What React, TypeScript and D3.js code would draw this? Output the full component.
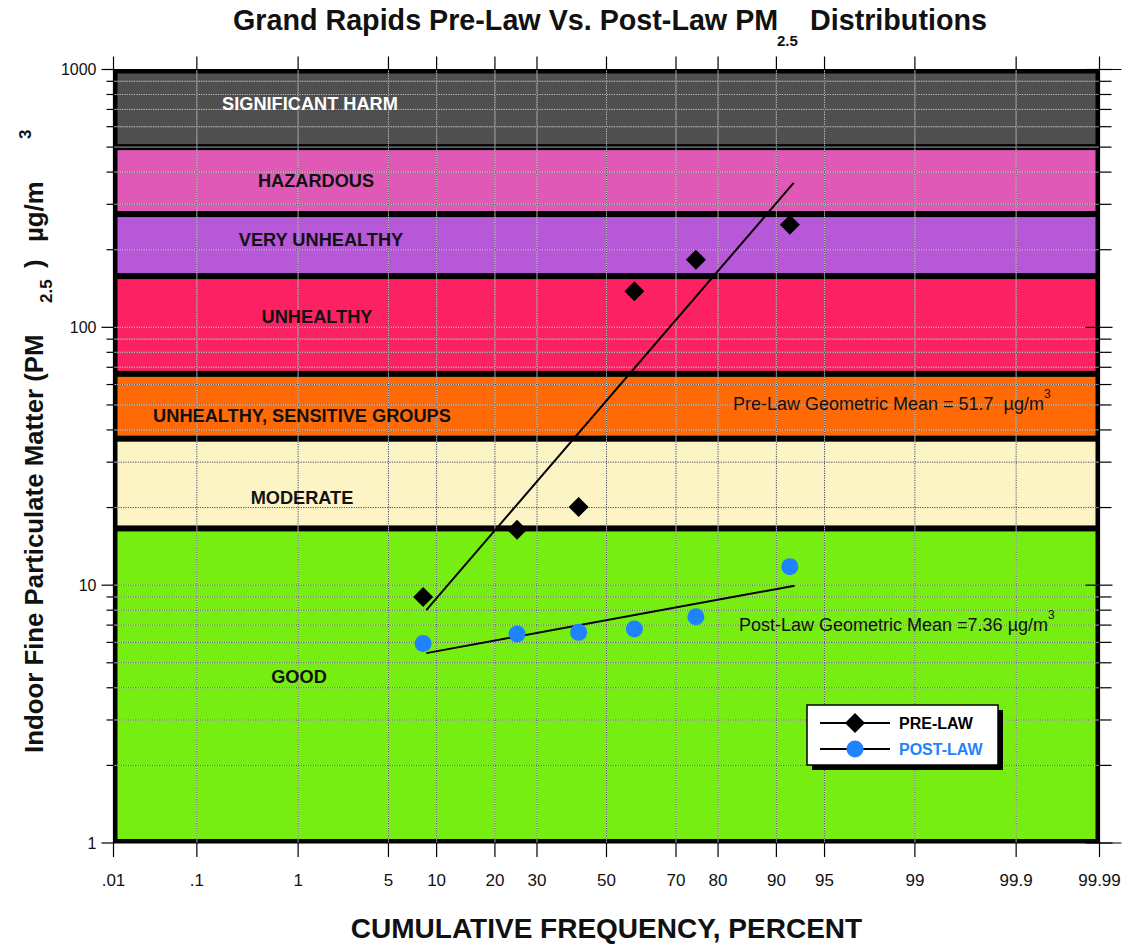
import React, { useRef, useEffect } from 'react';
import * as d3 from 'd3';

// air quality bands (ug/m3)
const bandNames = [
  'SIGNIFICANT HARM',
  'HAZARDOUS',
  'VERY UNHEALTHY',
  'UNHEALTHY',
  'UNHEALTHY, SENSITIVE GROUPS',
  'MODERATE',
  'GOOD',
];
const bandUpper = [1000, 500, 275, 158, 66, 37, 16.6];
const bandLower = [500, 275, 158, 66, 37, 16.6, 1];
const bandColors = ['#4f4f4f', '#e059b6', '#b658d8', '#fc2162', '#ff6a06', '#fcf4c4', '#77ee12'];
const bandTextColors = ['#ffffff', '#111', '#111', '#111', '#111', '#111', '#111'];

// cumulative frequency plotting positions (%) and measured values
const plotPercents = [8.33, 25, 41.67, 58.33, 75, 91.67];
const preLaw = [9.0, 16.4, 20.1, 138, 183, 250];
const postLaw = [5.94, 6.46, 6.56, 6.76, 7.54, 11.8];

// fitted lognormal lines: [percent, value]
const preFit = [[8.7, 8.0], [92.1, 363]];
const postFit = [[8.7, 5.45], [92.2, 9.95]];

const preMean = 51.7;
const postMean = 7.36;

const xTicks = [0.01, 0.1, 1, 5, 10, 20, 30, 50, 70, 80, 90, 95, 99, 99.9, 99.99];
const xTickLabels = ['.01', '.1', '1', '5', '10', '20', '30', '50', '70', '80', '90', '95', '99', '99.9', '99.99'];
const yTicks = [1, 10, 100, 1000];

const FONT = 'Liberation Sans, Arial, Helvetica, sans-serif';
const BLUE = '#1f83ff';

// inverse normal cdf (Acklam)
function probit(p: number) {
  const a = [-3.969683028665376e1, 2.209460984245205e2, -2.759285104469687e2, 1.38357751867269e2, -3.066479806614716e1, 2.506628277459239];
  const b = [-5.447609879822406e1, 1.615858368580409e2, -1.556989798598866e2, 6.680131188771972e1, -1.328068155288572e1];
  const c = [-7.784894002430293e-3, -3.223964580411365e-1, -2.400758277161838, -2.549732539343734, 4.374664141464968, 2.938163982698783];
  const d = [7.784695709041462e-3, 3.224671290700398e-1, 2.445134137142996, 3.754408661907416];
  const plow = 0.02425;
  if (p < plow) {
    const q = Math.sqrt(-2 * Math.log(p));
    return (((((c[0] * q + c[1]) * q + c[2]) * q + c[3]) * q + c[4]) * q + c[5]) /
      ((((d[0] * q + d[1]) * q + d[2]) * q + d[3]) * q + 1);
  }
  if (p > 1 - plow) {
    const q = Math.sqrt(-2 * Math.log(1 - p));
    return -(((((c[0] * q + c[1]) * q + c[2]) * q + c[3]) * q + c[4]) * q + c[5]) /
      ((((d[0] * q + d[1]) * q + d[2]) * q + d[3]) * q + 1);
  }
  const q = p - 0.5;
  const r = q * q;
  return (((((a[0] * r + a[1]) * r + a[2]) * r + a[3]) * r + a[4]) * r + a[5]) * q /
    (((((b[0] * r + b[1]) * r + b[2]) * r + b[3]) * r + b[4]) * r + 1);
}

const App = () => {
  const svgRef = useRef<SVGSVGElement>(null);

  useEffect(() => {
    const svg = d3.select(svgRef.current);
    svg.selectAll('*').remove();

    const zScale = d3.scaleLinear()
      .domain([probit(0.0001), probit(0.9999)])
      .range([113.5, 1099.5]);
    const x = (pct: number) => zScale(probit(pct / 100));
    const y = d3.scaleLog().domain([1, 1000]).range([843, 69.5]);

    const left = x(0.01), right = x(99.99);
    const top = y(1000), bottom = y(1);

    // bands
    const bands = bandNames.map((name, i) => ({ name, hi: bandUpper[i], lo: bandLower[i], i }));
    svg.append('g').selectAll('rect')
      .data(bands)
      .enter()
      .append('rect')
        .attr('x', left + 2)
        .attr('width', right - left - 4)
        .attr('y', d => y(d.hi) + (d.i === 0 ? 2 : 1))
        .attr('height', d => y(d.lo) - y(d.hi) - (d.i === 0 || d.i === 6 ? 3 : 2))
        .attr('fill', d => bandColors[d.i])
        .attr('stroke', '#000')
        .attr('stroke-width', 4);

    // grid
    const grid = svg.append('g');
    const minorY: number[] = [];
    [1, 10, 100].forEach(dec => { for (let k = 1; k < 10; k++) minorY.push(dec * k); });
    const hLines = minorY.filter(v => v > 1);
    const vLines = xTicks.slice(1, -1);
    [['#ffffff', null], ['#444', '1.2,1.2']].forEach(([col, dash]) => {
      grid.selectAll(null)
        .data(hLines)
        .enter()
        .append('line')
          .attr('x1', left).attr('x2', right)
          .attr('y1', d => y(d)).attr('y2', d => y(d))
          .attr('stroke', col as string)
          .attr('stroke-width', 1)
          .attr('stroke-opacity', dash ? 1 : 0.7)
          .attr('stroke-dasharray', dash as any);
      grid.selectAll(null)
        .data(vLines)
        .enter()
        .append('line')
          .attr('x1', d => x(d)).attr('x2', d => x(d))
          .attr('y1', top).attr('y2', bottom)
          .attr('stroke', col as string)
          .attr('stroke-width', 1)
          .attr('stroke-opacity', dash ? 1 : 0.7)
          .attr('stroke-dasharray', dash as any);
    });

    // axes frame and ticks
    const ax = svg.append('g').attr('stroke', '#000').attr('stroke-width', 1.2);
    ax.append('line').attr('x1', left).attr('x2', left).attr('y1', top).attr('y2', bottom);
    ax.append('line').attr('x1', left).attr('x2', right + 22).attr('y1', bottom).attr('y2', bottom);
    ax.append('line').attr('x1', left).attr('x2', right + 22).attr('y1', top).attr('y2', top);
    ax.append('line').attr('x1', right).attr('x2', right).attr('y1', top).attr('y2', bottom);
    xTicks.forEach(t => {
      ax.append('line').attr('x1', x(t)).attr('x2', x(t)).attr('y1', bottom).attr('y2', bottom + 14);
      ax.append('line').attr('x1', x(t)).attr('x2', x(t)).attr('y1', top).attr('y2', top - 13);
    });
    minorY.concat([1000]).forEach(v => {
      const major = yTicks.includes(v);
      ax.append('line').attr('x1', left - (major ? 12 : 7)).attr('x2', left).attr('y1', y(v)).attr('y2', y(v));
      ax.append('line').attr('x1', right - (major ? 14 : 0)).attr('x2', right + (major ? 13 : 12)).attr('y1', y(v)).attr('y2', y(v));
    });

    // tick labels
    svg.append('g').selectAll('text')
      .data(xTicks)
      .enter()
      .append('text')
        .attr('x', d => x(d))
        .attr('y', 886)
        .attr('text-anchor', 'middle')
        .style('font-family', FONT)
        .style('font-size', '17px')
        .attr('fill', '#111')
        .text((d, i) => xTickLabels[i]);
    svg.append('g').selectAll('text')
      .data(yTicks)
      .enter()
      .append('text')
        .attr('x', left - 17)
        .attr('y', d => y(d))
        .attr('dy', '0.36em')
        .attr('text-anchor', 'end')
        .style('font-family', FONT)
        .style('font-size', '16px')
        .attr('fill', '#111')
        .text(d => String(d));

    // band labels
    const labelX = [310, 316, 321, 317, 302, 302, 299];
    const labelY = [104, 181, 240, 317, 416, 498, 677];
    svg.append('g').selectAll('text')
      .data(bands)
      .enter()
      .append('text')
        .attr('x', d => labelX[d.i])
        .attr('y', d => labelY[d.i])
        .attr('dy', '0.35em')
        .attr('text-anchor', 'middle')
        .style('font-family', FONT)
        .style('font-weight', 'bold')
        .style('font-size', '18.2px')
        .attr('fill', d => bandTextColors[d.i])
        .text(d => d.name);

    // fit lines
    const line = d3.line<number[]>().x(d => x(d[0])).y(d => y(d[1]));
    svg.append('path').attr('d', line(preFit)).attr('fill', 'none').attr('stroke', '#000').attr('stroke-width', 2);
    svg.append('path').attr('d', line(postFit)).attr('fill', 'none').attr('stroke', '#000').attr('stroke-width', 2);

    // points
    const diamond = d3.symbol().type(d3.symbolSquare).size(200);
    svg.append('g').selectAll('path')
      .data(plotPercents.map((p, i) => [p, preLaw[i]]))
      .enter()
      .append('path')
        .attr('d', diamond)
        .attr('transform', d => `translate(${x(d[0])},${y(d[1])}) rotate(45)`)
        .attr('fill', '#000');
    svg.append('g').selectAll('circle')
      .data(plotPercents.map((p, i) => [p, postLaw[i]]))
      .enter()
      .append('circle')
        .attr('cx', d => x(d[0]))
        .attr('cy', d => y(d[1]))
        .attr('r', 8.5)
        .attr('fill', BLUE);

    // geometric mean annotations
    const gm = (tx: number, ty: number, label: string) => {
      const t = svg.append('text')
        .attr('x', tx).attr('y', ty)
        .style('font-family', FONT)
        .style('font-size', '18px')
        .style('white-space', 'pre')
        .attr('fill', '#111');
      t.append('tspan').text(label);
      t.append('tspan').attr('dy', -12).style('font-size', '12px').text('3');
    };
    gm(733, 410, `Pre-Law Geometric Mean = ${preMean}  \u00b5g/m`);
    gm(739, 631, `Post-Law Geometric Mean =${postMean} \u00b5g/m`);

    // legend
    const lg = svg.append('g');
    lg.append('rect').attr('x', 812).attr('y', 710).attr('width', 191).attr('height', 60).attr('fill', '#000');
    lg.append('rect').attr('x', 807).attr('y', 705).attr('width', 191).attr('height', 60)
      .attr('fill', '#fff').attr('stroke', '#000').attr('stroke-width', 1.5);
    [[723, '#000', 'PRE-LAW'], [749, BLUE, 'POST-LAW']].forEach(([ly, col, txt], i) => {
      lg.append('line').attr('x1', 820).attr('x2', 890).attr('y1', ly as number).attr('y2', ly as number)
        .attr('stroke', '#000').attr('stroke-width', 2);
      if (i === 0) {
        lg.append('path').attr('d', diamond).attr('transform', `translate(855,${ly}) rotate(45)`).attr('fill', '#000');
      } else {
        lg.append('circle').attr('cx', 855).attr('cy', ly as number).attr('r', 8.5).attr('fill', BLUE);
      }
      lg.append('text').attr('x', 899).attr('y', ly as number).attr('dy', '0.36em')
        .style('font-family', FONT).style('font-weight', 'bold').style('font-size', '16px')
        .attr('fill', col as string).text(txt as string);
    });

    // title
    const title = svg.append('text')
      .attr('y', 30)
      .style('font-family', FONT).style('font-weight', 'bold').style('font-size', '28.7px')
      .attr('fill', '#111');
    title.append('tspan').attr('x', 233).text('Grand Rapids Pre-Law Vs. Post-Law PM');
    title.append('tspan').attr('x', 777).attr('dy', 16).style('font-size', '15px').text('2.5');
    title.append('tspan').attr('x', 810).attr('dy', -16).text('Distributions');

    // axis titles
    svg.append('text')
      .attr('x', x(50)).attr('y', 938)
      .attr('text-anchor', 'middle')
      .style('font-family', FONT).style('font-weight', 'bold').style('font-size', '28px')
      .attr('fill', '#111')
      .text('CUMULATIVE FREQUENCY, PERCENT');

    const yt = svg.append('text')
      .attr('transform', 'translate(43,753) rotate(-90)')
      .style('font-family', FONT).style('font-weight', 'bold').style('font-size', '25.8px')
      .attr('fill', '#111');
    yt.append('tspan').attr('x', 0).text('Indoor Fine Particulate Matter (PM');
    yt.append('tspan').attr('x', 450).attr('dy', 9).style('font-size', '17px').text('2.5');
    yt.append('tspan').attr('x', 485).attr('dy', -9).text(')');
    yt.append('tspan').attr('x', 511).text('\u00b5g/m');
    yt.append('tspan').attr('x', 614).attr('dy', -12).style('font-size', '17px').text('3');
  }, []);

  return (
    <svg ref={svgRef} width={1135} height={946}
      style={{ position: 'absolute', left: 0, top: 0, background: '#fff' }} />
  );
};

export default App;
